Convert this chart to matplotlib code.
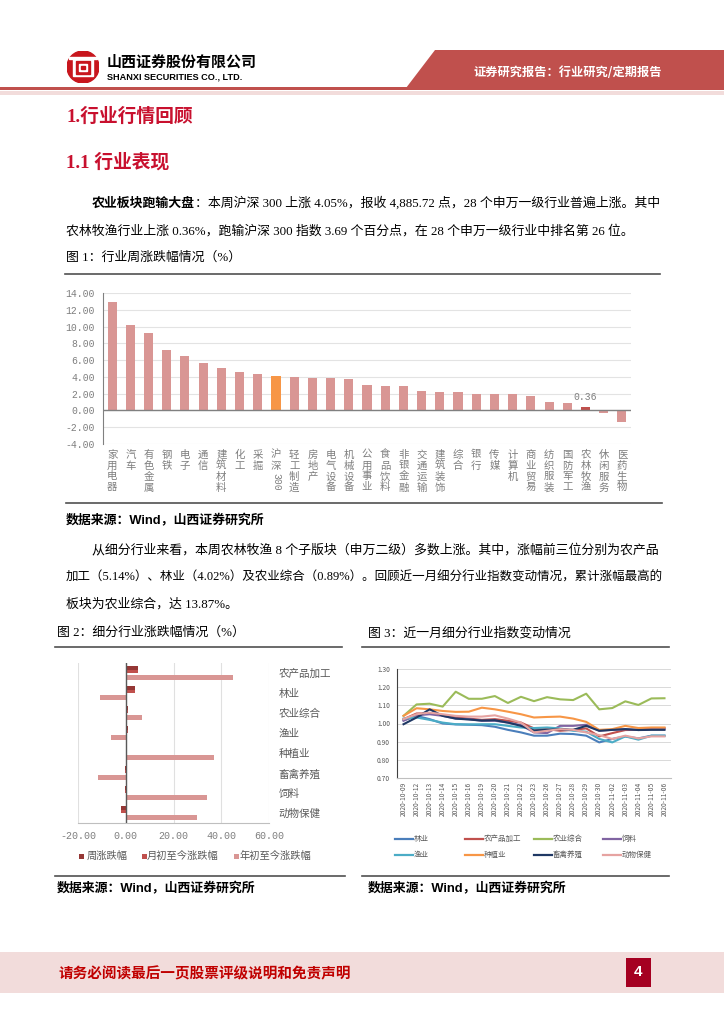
import matplotlib
matplotlib.use("Agg")
import matplotlib.pyplot as plt
from matplotlib.patches import Polygon, Rectangle, Circle
from matplotlib.lines import Line2D
import numpy as np

W, H = 724, 1024
BODY = ["Liberation Serif", "Noto Sans CJK SC", "DejaVu Sans"]
SANS = ["Noto Sans CJK SC", "DejaVu Sans"]
NUM = ["Liberation Mono", "DejaVu Sans Mono"]
RED = "#c8102e"

# ---- figure 1: weekly change by SW level-1 industry (%)
industries = ["家用电器", "汽车", "有色金属", "钢铁", "电子", "通信", "建筑材料", "化工", "采掘",
              "沪深300", "轻工制造", "房地产", "电气设备", "机械设备", "公用事业", "食品饮料",
              "非银金融", "交通运输", "建筑装饰", "综合", "银行", "传媒", "计算机", "商业贸易",
              "纺织服装", "国防军工", "农林牧渔", "休闲服务", "医药生物"]
weekly_chg = [12.93, 10.16, 9.25, 7.16, 6.52, 5.69, 5.06, 4.55, 4.35,
              4.05, 3.95, 3.87, 3.84, 3.76, 3.00, 2.89,
              2.89, 2.29, 2.25, 2.17, 1.98, 1.94, 1.94, 1.74,
              0.95, 0.83, 0.36, -0.28, -1.38]

# ---- figure 2: sub-industry changes (%)
sub_names = ["农产品加工", "林业", "农业综合", "渔业", "种植业", "畜禽养殖", "饲料", "动物保健"]
week_chg = [5.14, 4.02, 0.89, 0.75, 0.35, -0.30, -0.50, -1.90]
month_chg = [5.14, 4.02, 0.89, 0.75, 0.35, -0.30, -0.50, -1.90]
ytd_chg = [44.8, -10.8, 6.8, -6.2, 36.8, -11.5, 34.2, 30.0]
bar_series = ["周涨跌幅", "月初至今涨跌幅", "年初至今涨跌幅"]
bar_colors = ["#953735", "#c0504d", "#d99694"]

# ---- figure 3: sub-industry index over the last month
dates = ["2020-10-09", "2020-10-12", "2020-10-13", "2020-10-14", "2020-10-15", "2020-10-16",
         "2020-10-19", "2020-10-20", "2020-10-21", "2020-10-22", "2020-10-23", "2020-10-26",
         "2020-10-27", "2020-10-28", "2020-10-29", "2020-10-30", "2020-11-02", "2020-11-03",
         "2020-11-04", "2020-11-05", "2020-11-06"]
idx_forestry = [1.018, 1.042, 1.024, 1.000, 0.995, 0.993, 0.991, 0.982, 0.965, 0.951, 0.933,
                0.933, 0.944, 0.942, 0.933, 0.896, 0.915, 0.929, 0.918, 0.933, 0.933]
idx_processing = [1.024, 1.055, 1.056, 1.045, 1.033, 1.027, 1.020, 1.024, 1.015, 1.005, 0.973,
                  0.969, 0.960, 0.965, 0.973, 0.929, 0.947, 0.964, 0.965, 0.973, 0.975]
idx_integrated = [1.042, 1.105, 1.109, 1.093, 1.175, 1.136, 1.136, 1.151, 1.113, 1.147, 1.123,
                  1.145, 1.133, 1.129, 1.164, 1.078, 1.085, 1.122, 1.102, 1.138, 1.139]
idx_feed = [1.015, 1.045, 1.051, 1.042, 1.027, 1.024, 1.015, 1.015, 1.005, 0.991, 0.951,
            0.947, 0.987, 0.987, 0.993, 0.960, 0.965, 0.969, 0.964, 0.969, 0.969]
idx_fishery = [1.027, 1.033, 1.020, 1.005, 0.996, 0.995, 0.996, 0.996, 0.987, 0.978, 0.975,
               0.978, 0.973, 0.960, 0.955, 0.915, 0.896, 0.929, 0.911, 0.933, 0.933]
idx_planting = [1.042, 1.084, 1.078, 1.069, 1.064, 1.065, 1.087, 1.078, 1.065, 1.051, 1.033,
                1.036, 1.038, 1.027, 1.009, 0.965, 0.969, 0.987, 0.975, 0.978, 0.978]
idx_livestock = [0.996, 1.033, 1.078, 1.042, 1.027, 1.022, 1.016, 1.018, 1.005, 0.987, 0.962,
                 0.965, 0.969, 0.965, 0.987, 0.960, 0.965, 0.969, 0.964, 0.965, 0.965]
idx_animal = [1.024, 1.051, 1.060, 1.051, 1.042, 1.038, 1.038, 1.045, 1.027, 1.005, 0.951,
              0.960, 0.969, 0.965, 0.951, 0.936, 0.915, 0.933, 0.918, 0.929, 0.929]
line_names = ["林业", "农产品加工", "农业综合", "饲料", "渔业", "种植业", "畜禽养殖", "动物保健"]
line_data = [idx_forestry, idx_processing, idx_integrated, idx_feed,
             idx_fishery, idx_planting, idx_livestock, idx_animal]
line_colors = ["#4a7ebb", "#c0504d", "#9bbb59", "#8064a2",
               "#4bacc6", "#f79646", "#1f3864", "#e6a3a1"]


def box(l, t, r, b):
    return [l / W, 1 - b / H, (r - l) / W, (b - t) / H]


fig = plt.figure(figsize=(W / 100, H / 100), dpi=100)
renderer = fig.canvas.get_renderer()


def put(x, y, s, size=9.3, color="black", weight="normal", family=BODY, ha="left", fit=None):
    t = fig.text(x / W, 1 - y / H, s, fontsize=size, color=color, fontweight=weight,
                 family=family, ha=ha, va="center")
    if fit is not None:
        # squeeze a full line so it ends at the right margin
        w = t.get_window_extent(renderer).width
        t.set_fontsize(size * (fit - x) / w)
    return t


def hline(x0, x1, y, color="#505050", lw=1.2):
    fig.add_artist(Line2D([x0 / W, x1 / W], [1 - y / H, 1 - y / H], color=color, lw=lw,
                          transform=fig.transFigure))


def rect(x0, y0, x1, y1, color):
    fig.add_artist(Rectangle((x0 / W, 1 - y1 / H), (x1 - x0) / W, (y1 - y0) / H,
                             color=color, transform=fig.transFigure, lw=0))


# ---- header
axl = fig.add_axes(box(67, 51, 99, 83))
axl.set_xlim(-1, 1)
axl.set_ylim(-1, 1)
axl.set_aspect("equal")
axl.axis("off")
axl.add_patch(Circle((0, 0), 1, color="#c8161d"))
axl.add_patch(Rectangle((-0.62, -0.58), 1.24, 1.1, color="white"))
axl.add_patch(Rectangle((-0.45, -0.42), 0.9, 0.78, color="#c8161d"))
axl.add_patch(Rectangle((-0.28, -0.25), 0.56, 0.44, color="white"))
axl.add_patch(Rectangle((-0.12, -0.1), 0.24, 0.14, color="#c8161d"))
axl.add_patch(Rectangle((-0.9, 0.52), 1.8, 0.12, color="white"))

put(107, 62, "山西证券股份有限公司", size=10.8, weight="bold", family=SANS)
put(107, 77, "SHANXI SECURITIES CO., LTD.", size=6.6, weight="bold",
    family=["Liberation Sans", "DejaVu Sans"])
fig.add_artist(Polygon([(406 / W, 1 - 88 / H), (435 / W, 1 - 50 / H), (1, 1 - 50 / H), (1, 1 - 88 / H)],
                       closed=True, color="#c0504d", transform=fig.transFigure, lw=0))
put(568, 72, "证券研究报告：行业研究/定期报告", size=8.8, color="white", weight="bold",
    family=SANS, ha="center")
rect(0, 87, W, 90, "#c0504d")
rect(0, 91, W, 95, "#f2dcdb")

# ---- headings and paragraph
put(66, 117, "1.行业行情回顾", size=13.5, color=RED, weight="bold")
put(66, 162, "1.1 行业表现", size=13.5, color=RED, weight="bold")

t = put(92, 203, "农业板块跑输大盘", weight="bold", family=SANS)
w = t.get_window_extent(renderer).width
put(92 + w, 203, "：本周沪深 300 上涨 4.05%，报收 4,885.72 点，28 个申万一级行业普遍上涨。其中")
put(66, 231, "农林牧渔行业上涨 0.36%，跑输沪深 300 指数 3.69 个百分点，在 28 个申万一级行业中排名第 26 位。")
put(66, 258, "图 1：行业周涨跌幅情况（%）")

hline(65, 660, 274)
hline(66, 662, 503)

# ---- figure 1
ax1 = fig.add_axes(box(103, 293, 631, 444))
x1 = np.arange(len(industries))
cols1 = ["#d99694"] * len(industries)
cols1[industries.index("沪深300")] = "#f79646"
cols1[industries.index("农林牧渔")] = "#c0504d"
ax1.bar(x1, weekly_chg, width=0.5, color=cols1, zorder=2)
ax1.set_xlim(-0.5, len(industries) - 0.5)
ax1.set_ylim(-4, 14)
yt = np.arange(-4, 15, 2)
ax1.set_yticks(yt)
ax1.set_yticklabels([f"{v:.2f}" for v in yt], family=NUM, fontsize=7, color="#7f7f7f")
ax1.yaxis.grid(True, color="#e3e3e3", lw=0.8)
ax1.set_axisbelow(True)
ax1.axhline(0, color="#808080", lw=1.0, zorder=3)
for s in ["top", "right", "bottom"]:
    ax1.spines[s].set_visible(False)
ax1.spines["left"].set_color("#808080")
ax1.tick_params(axis="y", length=0, pad=6)
ax1.tick_params(axis="x", length=0, pad=4)
labels1 = []
for name in industries:
    cjk = "".join(c for c in name if not c.isdigit())
    labels1.append("\n".join(cjk))
ax1.set_xticks(x1)
ax1.set_xticklabels(labels1, family=SANS, fontsize=7.5, color="#7f7f7f", linespacing=1.12, va="top")
for i, name in enumerate(industries):
    digits = "".join(c for c in name if c.isdigit())
    if digits:
        ax1.text(i, -0.19, digits, transform=ax1.get_xaxis_transform(), rotation=-90,
                 ha="center", va="top", family=NUM, fontsize=7, color="#7f7f7f")
k = industries.index("农林牧渔")
ax1.annotate(f"{weekly_chg[k]:.2f}", xy=(k, weekly_chg[k]), xytext=(0, 4),
             textcoords="offset points", ha="center", va="bottom", family=NUM,
             fontsize=7, color="#7f7f7f")

# ---- paragraph 2
SRC = ["Liberation Sans", "Noto Sans CJK SC"]
put(66, 521, "数据来源：Wind，山西证券研究所", weight="bold", family=SRC)
put(92, 550, "从细分行业来看，本周农林牧渔 8 个子版块（申万二级）多数上涨。其中，涨幅前三位分别为农产品", fit=660)
put(66, 578, "加工（5.14%）、林业（4.02%）及农业综合（0.89%）。回顾近一月细分行业指数变动情况，累计涨幅最高的", fit=660)
put(66, 604, "板块为农业综合，达 13.87%。")

put(57, 633, "图 2：细分行业涨跌幅情况（%）")
put(368, 633, "图 3：近一月细分行业指数变动情况")
hline(55, 342, 647)
hline(362, 669, 647)
hline(55, 345, 876)
hline(362, 669, 876)
put(57, 889, "数据来源：Wind，山西证券研究所", weight="bold", family=SRC)
put(368, 889, "数据来源：Wind，山西证券研究所", weight="bold", family=SRC)

# ---- figure 2
ax2 = fig.add_axes(box(78, 663, 269, 823))
y2 = np.arange(len(sub_names))
ax2.barh(y2 - 0.27, week_chg, height=0.2, color=bar_colors[0], zorder=3)
ax2.barh(y2 - 0.1, month_chg, height=0.2, color=bar_colors[1], zorder=2)
ax2.barh(y2 + 0.2, ytd_chg, height=0.25, color=bar_colors[2], zorder=2)
ax2.set_xlim(-20, 60)
ax2.set_ylim(len(sub_names) - 0.5, -0.5)
xt2 = [-20, 0, 20, 40, 60]
ax2.set_xticks(xt2)
ax2.set_xticklabels([f"{v:.2f}" for v in xt2], family=NUM, fontsize=7.2, color="#7f7f7f")
ax2.xaxis.grid(True, color="#e0e0e0", lw=0.8)
ax2.set_axisbelow(True)
ax2.axvline(0, color="#595959", lw=1.0, zorder=4)
for s in ["top", "right", "left"]:
    ax2.spines[s].set_visible(False)
ax2.spines["bottom"].set_color("#bfbfbf")
ax2.yaxis.tick_right()
ax2.set_yticks(y2)
ax2.set_yticklabels(sub_names, family=SANS, fontsize=7.6, color="#595959")
ax2.tick_params(axis="y", length=0, pad=7)
ax2.tick_params(axis="x", length=0, pad=6)
for xs, xt, name, c in zip([79, 142, 234], [87, 147, 240], bar_series, bar_colors):
    rect(xs, 854, xs + 4.5, 858.5, c)
    put(xt, 856, name, size=7.4, color="#595959", family=SANS)

# ---- figure 3
ax3 = fig.add_axes(box(397, 669, 671, 778))
x3 = np.arange(len(dates))
for vals, c in zip(line_data, line_colors):
    ax3.plot(x3, vals, color=c, lw=1.5, zorder=3)
ax3.set_xlim(-0.5, len(dates) - 0.5)
ax3.set_ylim(0.7, 1.3)
yt3 = np.round(np.arange(0.7, 1.31, 0.1), 2)
ax3.set_yticks(yt3)
ax3.set_yticklabels([f"{v:.2f}" for v in yt3], family=SANS, fontsize=4.8, color="#595959")
ax3.yaxis.grid(True, color="#d9d9d9", lw=0.7)
ax3.set_axisbelow(True)
ax3.set_xticks(x3)
ax3.set_xticklabels(dates, rotation=90, family=SANS, fontsize=4.8, color="#595959")
ax3.tick_params(axis="both", length=0)
ax3.tick_params(axis="y", pad=5)
ax3.tick_params(axis="x", pad=3)
for s in ["top", "right"]:
    ax3.spines[s].set_visible(False)
ax3.spines["left"].set_color("#404040")
ax3.spines["bottom"].set_color("#bfbfbf")
leg_x = [395, 465, 534, 603]
leg_y = [839, 855]
for i, (name, c) in enumerate(zip(line_names, line_colors)):
    lx = leg_x[i % 4]
    ly = leg_y[i // 4]
    fig.add_artist(Line2D([lx / W, (lx + 18) / W], [1 - ly / H, 1 - ly / H], color=c, lw=1.6,
                          transform=fig.transFigure))
    put(lx + 19, ly, name, size=5.4, color="#595959", family=SANS)

# ---- footer
rect(0, 952, W, 993, "#f2dcdb")
put(59, 973, "请务必阅读最后一页股票评级说明和免责声明", size=10.5, color="#c00000",
    weight="bold", family=SANS)
rect(626, 958, 651, 987, "#a50021")
put(638.5, 972, "4", size=11, color="white", weight="bold", family=["Liberation Sans"], ha="center")

fig.savefig("out.png", dpi=100)
